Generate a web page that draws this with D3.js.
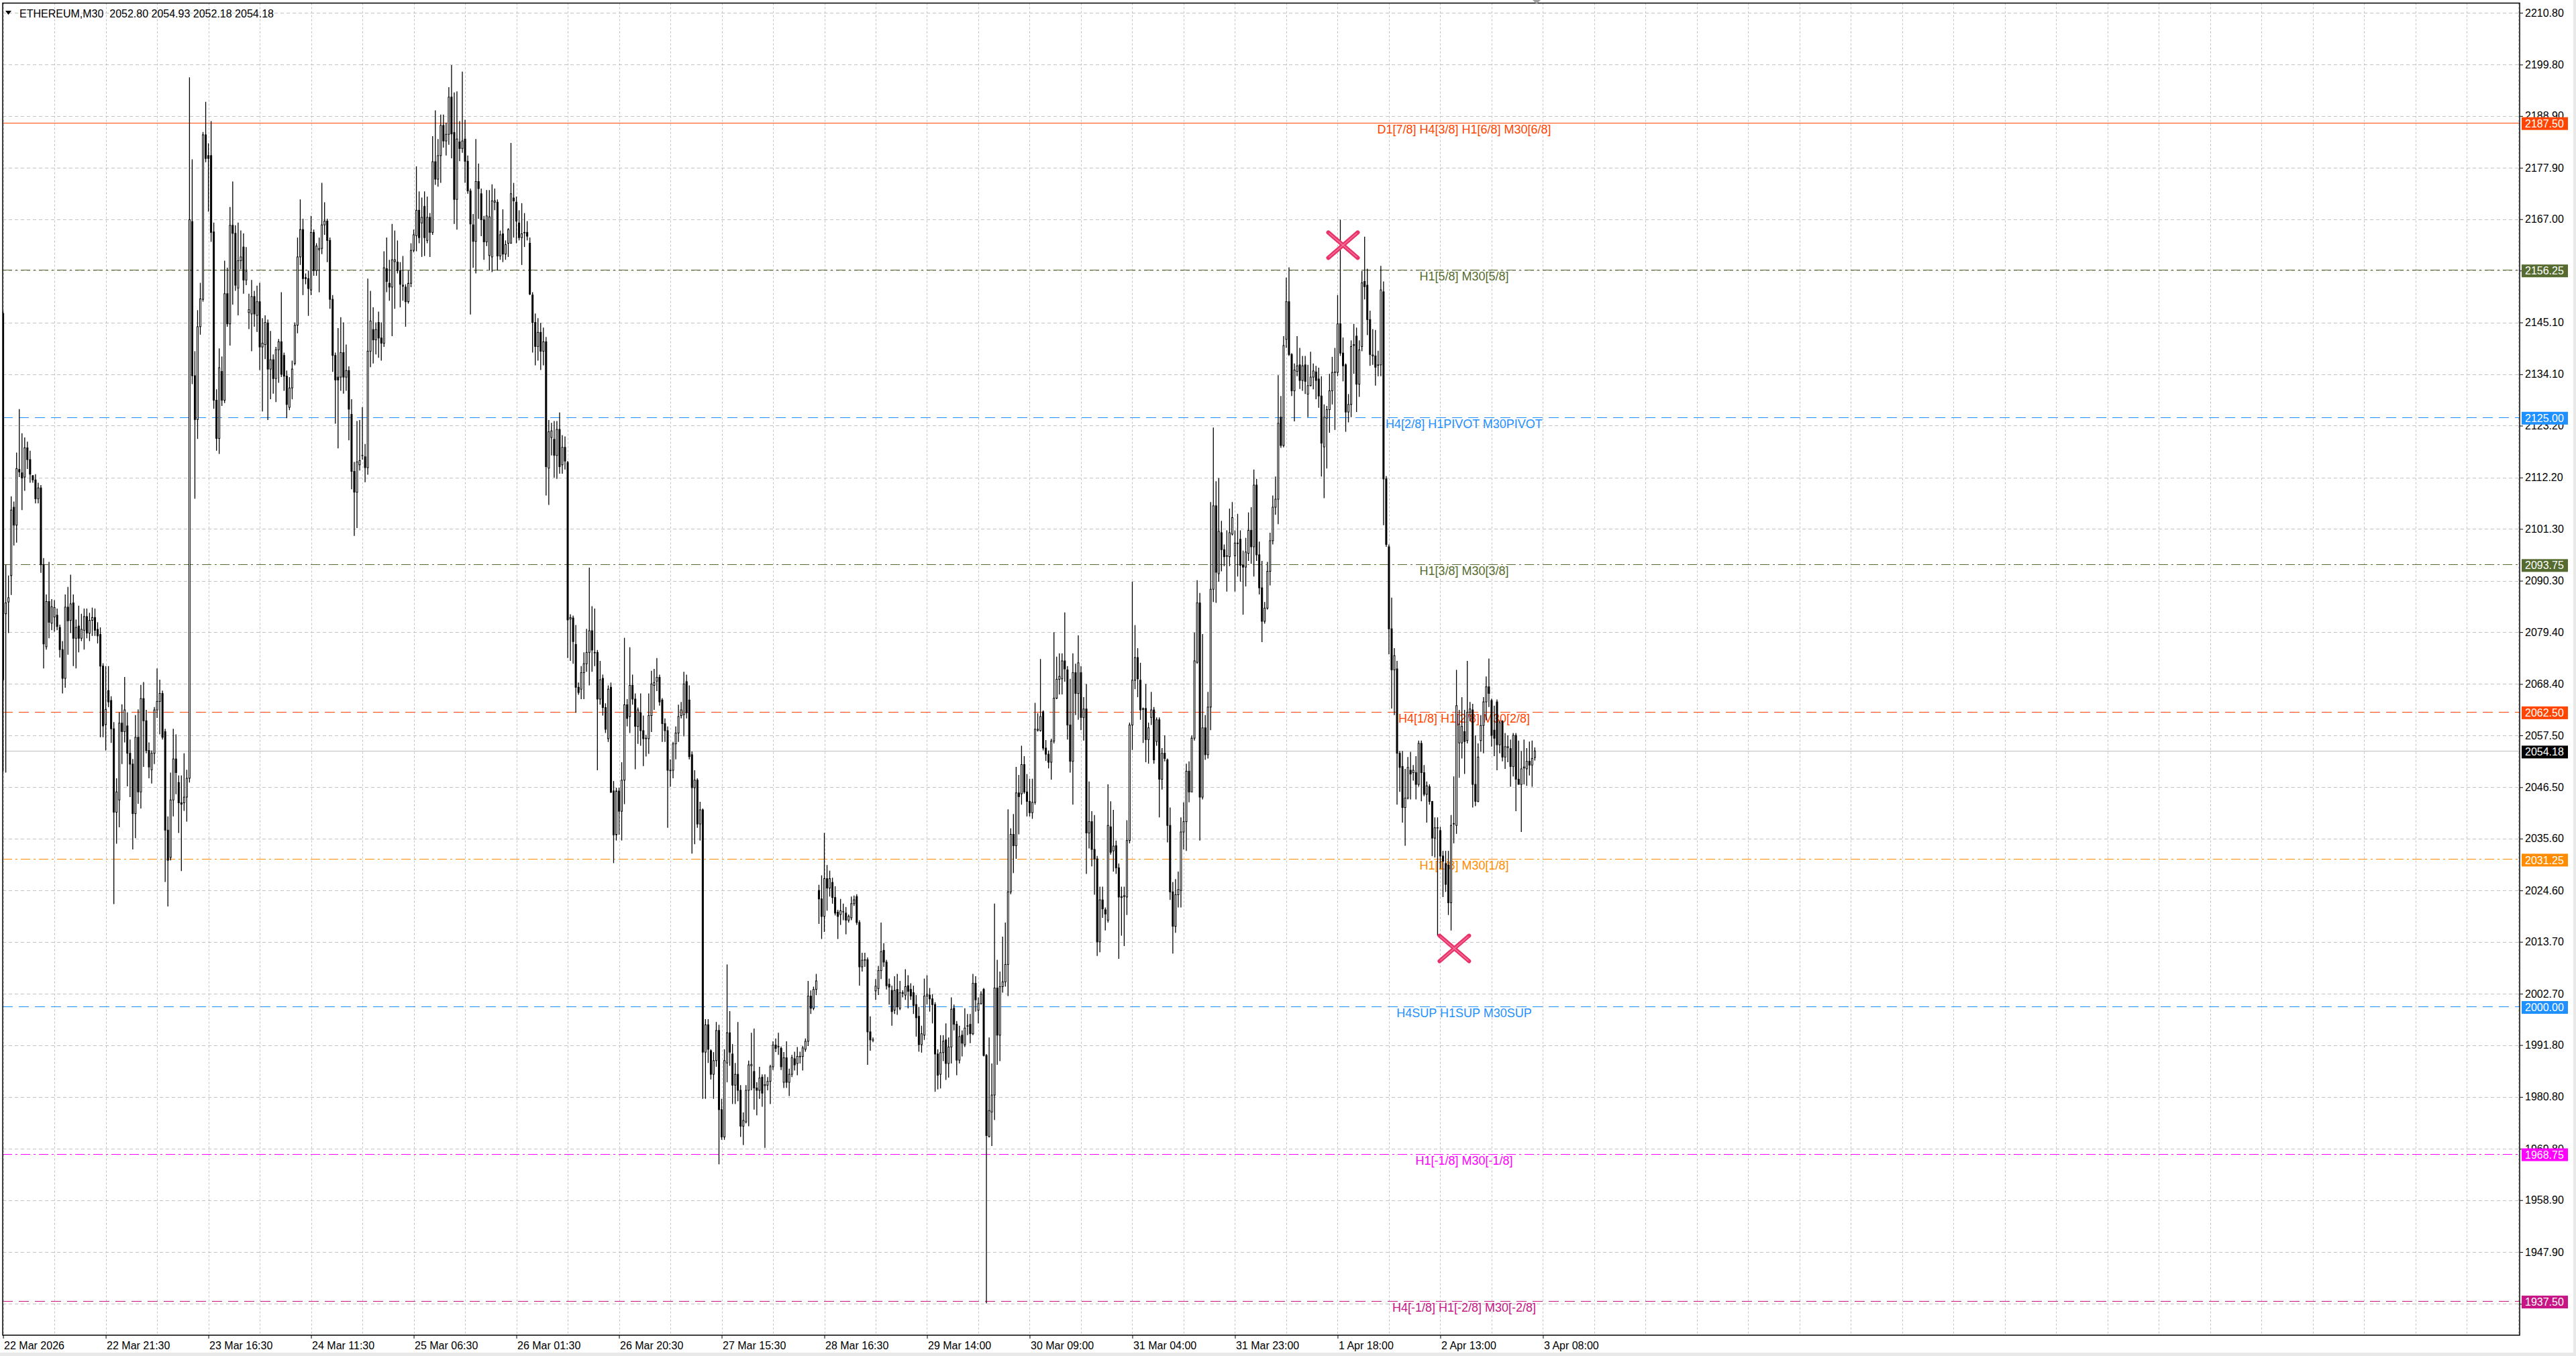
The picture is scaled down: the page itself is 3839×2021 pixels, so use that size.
<!DOCTYPE html>
<html>
<head>
<meta charset="utf-8">
<script src="https://cdn.jsdelivr.net/npm/d3@7"></script>
<style>
html, body { margin: 0; padding: 0; background: #fff; }
svg { display: block; font-family: "Liberation Sans", Arial, sans-serif; }
</style>
</head>
<body>
<svg id="chart" width="3839" height="2021"></svg>
<script>

// ETHEREUM M30 bars: [open, high, low, close]
var candles = [
[2147.0,2147.5,2049.8,2069.3],[2083.3,2093.7,2049.6,2085.6],[2085.8,2091.4,2079.2,2086.7],[2091.4,2108.2,2087.3,2105.3],[2105.9,2107.1,2097.8,2102.1],[2102.1,2117.5,2098.4,2114.1],
[2113.9,2126.7,2112.3,2113.4],[2113.2,2121.6,2105.3,2112.1],[2112.3,2120.7,2109.4,2118.5],[2118.5,2119.8,2114.0,2116.0],[2116.0,2117.9,2111.1,2112.9],[2112.6,2112.7,2111.1,2111.7],
[2111.7,2112.9,2106.7,2107.7],[2107.7,2111.1,2106.7,2110.0],[2110.0,2110.6,2092.0,2093.7],[2093.7,2095.1,2071.7,2076.9],[2076.3,2087.4,2075.7,2085.9],[2085.9,2094.3,2078.1,2081.5],
[2081.3,2086.4,2079.8,2084.8],[2082.6,2086.2,2079.5,2084.6],[2083.0,2084.4,2079.8,2080.6],[2080.4,2081.0,2074.0,2075.7],[2075.7,2077.5,2066.4,2069.6],[2069.6,2087.4,2067.6,2084.7],
[2084.7,2089.0,2074.6,2081.8],[2081.9,2091.6,2079.2,2085.4],[2085.6,2087.4,2072.2,2078.1],[2078.1,2082.1,2071.7,2080.4],[2080.7,2085.0,2075.1,2078.1],[2078.1,2083.3,2077.5,2080.0],
[2079.8,2084.4,2075.7,2082.7],[2082.7,2084.4,2078.1,2079.2],[2079.2,2083.5,2077.5,2081.9],[2081.9,2084.6,2078.6,2082.5],[2082.5,2084.4,2078.6,2079.8],[2080.0,2081.5,2077.0,2078.6],
[2078.9,2080.4,2057.1,2072.2],[2072.2,2072.8,2057.1,2059.5],[2059.8,2072.2,2054.3,2063.0],[2067.0,2072.2,2063.5,2064.6],[2064.9,2065.8,2055.9,2058.9],[2058.9,2060.3,2021.7,2041.2],
[2041.2,2048.4,2034.5,2045.5],[2043.8,2062.4,2038.0,2060.1],[2060.1,2064.1,2051.4,2058.3],[2058.3,2069.9,2056.0,2062.9],[2059.5,2062.4,2046.7,2053.7],[2053.7,2056.6,2044.4,2051.4],
[2051.4,2052.5,2033.3,2040.9],[2040.9,2061.8,2035.7,2057.1],[2057.1,2063.0,2043.0,2045.5],[2045.5,2068.2,2042.0,2065.3],[2065.3,2068.8,2050.8,2060.6],[2060.6,2062.9,2053.7,2054.3],
[2054.3,2056.0,2048.4,2050.8],[2050.2,2054.3,2047.3,2053.7],[2053.7,2063.5,2051.4,2062.9],[2062.9,2071.7,2061.2,2064.7],[2064.7,2069.3,2057.7,2066.4],[2066.4,2067.0,2056.6,2057.1],
[2058.3,2058.9,2026.4,2037.4],[2037.4,2040.3,2021.2,2031.0],[2031.6,2049.6,2031.0,2043.8],[2043.8,2058.9,2040.3,2052.5],[2052.5,2057.7,2045.0,2049.6],[2047.5,2049.0,2036.8,2043.2],
[2043.2,2049.0,2028.7,2042.9],[2043.2,2053.7,2041.5,2044.4],[2044.4,2050.2,2039.2,2048.4],[2048.4,2197.1,2047.5,2166.9],[2166.5,2179.7,2132.0,2133.8],[2133.8,2139.0,2107.7,2124.5],
[2124.5,2147.7,2120.4,2144.2],[2144.2,2153.5,2142.5,2150.1],[2150.0,2185.5,2149.5,2184.9],[2184.9,2191.9,2179.1,2179.9],[2180.5,2183.1,2168.6,2179.9],[2180.5,2187.8,2162.2,2164.2],
[2164.3,2166.3,2126.8,2128.6],[2128.6,2130.9,2117.9,2120.5],[2120.5,2139.6,2117.2,2135.5],[2134.7,2137.9,2127.4,2128.6],[2128.6,2158.2,2128.0,2151.2],[2151.2,2156.7,2144.2,2144.8],
[2144.8,2169.6,2140.2,2165.7],[2165.7,2175.0,2148.9,2164.0],[2164.0,2165.7,2151.8,2153.0],[2152.4,2166.3,2146.6,2158.2],[2158.2,2164.6,2156.4,2159.0],[2161.1,2164.0,2151.2,2154.1],
[2154.1,2161.1,2153.0,2155.9],[2147.2,2151.2,2143.7,2147.8],[2146.9,2154.1,2139.0,2150.6],[2150.6,2151.8,2144.2,2146.9],[2146.6,2152.9,2143.1,2149.5],[2149.5,2153.5,2135.0,2139.9],
[2139.9,2146.0,2126.2,2140.7],[2140.4,2146.6,2137.3,2145.1],[2145.0,2145.7,2124.4,2135.2],[2135.2,2143.3,2128.8,2137.2],[2137.2,2138.3,2130.0,2133.2],[2133.2,2139.9,2128.2,2139.3],
[2139.3,2141.6,2132.3,2141.0],[2141.0,2151.5,2133.5,2134.1],[2138.1,2138.7,2130.6,2133.7],[2133.7,2134.9,2124.8,2127.7],[2127.1,2133.5,2126.5,2131.2],[2131.2,2137.0,2128.8,2135.2],
[2136.4,2145.1,2136.0,2144.5],[2144.5,2163.1,2142.8,2159.0],[2159.0,2171.2,2157.3,2164.8],[2164.8,2167.1,2150.9,2154.4],[2154.6,2155.5,2153.2,2154.4],[2154.4,2156.1,2146.5,2152.3],
[2152.0,2167.7,2150.9,2164.2],[2164.2,2164.8,2155.0,2156.1],[2156.1,2161.9,2155.0,2161.3],[2160.5,2163.1,2151.5,2160.8],[2160.8,2174.7,2159.6,2165.8],[2165.8,2170.6,2163.7,2166.6],
[2166.6,2167.1,2157.9,2162.5],[2162.5,2163.1,2148.0,2150.0],[2150.0,2150.9,2134.6,2138.1],[2138.1,2138.7,2123.6,2132.9],[2133.5,2143.9,2118.4,2132.9],[2133.5,2146.2,2130.6,2138.7],
[2138.7,2145.1,2130.0,2133.5],[2133.5,2140.4,2130.6,2134.9],[2134.9,2135.8,2120.1,2126.7],[2125.6,2128.8,2109.7,2113.5],[2113.5,2115.5,2099.8,2109.1],[2109.1,2124.2,2101.5,2115.5],
[2114.9,2124.4,2113.7,2115.8],[2116.9,2127.1,2116.0,2116.9],[2116.6,2119.3,2111.2,2114.3],[2114.3,2154.4,2112.8,2139.0],[2139.0,2151.8,2135.6,2145.4],[2143.6,2148.3,2136.4,2141.4],
[2141.4,2145.1,2138.3,2143.6],[2145.1,2147.4,2137.6,2141.8],[2141.8,2145.1,2137.0,2140.7],[2140.7,2160.2,2139.9,2156.7],[2156.5,2163.1,2151.5,2153.8],[2153.4,2158.4,2149.7,2152.6],
[2152.6,2166.0,2142.2,2158.4],[2158.0,2164.6,2148.0,2158.4],[2157.9,2162.5,2155.5,2156.1],[2156.1,2157.9,2148.3,2153.2],[2152.8,2159.2,2149.7,2153.0],[2152.6,2153.2,2144.2,2149.5],
[2149.5,2156.1,2149.1,2153.4],[2153.4,2161.9,2152.6,2160.4],[2160.4,2164.8,2160.0,2163.7],[2163.5,2178.2,2160.2,2168.9],[2168.9,2172.9,2161.9,2163.1],[2166.2,2171.6,2159.0,2167.4],
[2169.7,2172.9,2159.2,2163.1],[2162.5,2171.8,2161.9,2167.4],[2167.4,2168.3,2159.0,2164.2],[2164.2,2184.6,2163.7,2179.2],[2179.2,2190.1,2174.3,2175.5],[2175.5,2184.0,2173.9,2180.5],
[2180.5,2189.2,2174.7,2186.9],[2186.9,2189.2,2182.2,2183.6],[2183.6,2187.5,2180.5,2185.0],[2185.0,2195.0,2182.8,2192.9],[2192.9,2199.7,2179.9,2185.1],[2185.4,2193.9,2166.0,2171.2],
[2171.2,2194.1,2164.8,2184.0],[2183.4,2187.8,2179.3,2182.0],[2182.0,2198.3,2181.1,2183.6],[2184.0,2188.1,2174.7,2179.3],[2179.3,2180.5,2172.4,2173.0],[2173.0,2173.5,2146.8,2166.0],
[2165.8,2168.1,2156.7,2162.3],[2162.3,2184.0,2155.5,2175.0],[2175.0,2178.8,2167.1,2173.5],[2172.4,2173.5,2163.4,2166.9],[2166.9,2167.7,2158.4,2162.2],[2162.2,2173.2,2161.3,2167.7],
[2159.3,2173.2,2156.1,2167.5],[2159.0,2174.4,2155.8,2170.9],[2170.6,2173.5,2168.9,2170.9],[2170.6,2171.2,2156.1,2159.2],[2159.2,2164.6,2158.4,2163.7],[2163.9,2169.1,2157.9,2159.6],
[2159.6,2162.5,2158.4,2161.6],[2161.9,2165.1,2159.0,2164.8],[2161.9,2183.2,2161.9,2172.4],[2171.5,2174.7,2163.1,2170.9],[2170.6,2171.8,2161.9,2166.6],[2166.2,2168.9,2162.5,2163.1],
[2163.1,2170.4,2157.3,2163.9],[2164.1,2168.3,2161.1,2164.2],[2164.2,2166.6,2162.5,2163.4],[2161.9,2163.1,2150.9,2151.1],[2150.9,2151.5,2138.7,2145.1],[2145.1,2147.0,2136.0,2140.0],
[2140.0,2146.0,2137.0,2143.0],[2143.0,2145.0,2135.0,2139.0],[2139.0,2144.0,2136.0,2141.0],[2141.0,2142.0,2108.4,2114.5],[2114.2,2124.4,2106.4,2121.9],[2120.7,2123.8,2116.9,2122.1],
[2120.3,2124.2,2112.2,2116.9],[2116.9,2124.2,2111.9,2122.4],[2122.4,2126.0,2113.0,2114.5],[2114.9,2121.2,2113.0,2118.6],[2118.6,2120.9,2113.9,2115.7],[2115.4,2115.7,2073.9,2082.0],
[2082.2,2083.2,2073.3,2082.5],[2082.4,2082.9,2072.7,2077.4],[2076.8,2080.9,2062.3,2067.7],[2067.7,2068.7,2066.1,2066.6],[2067.3,2072.2,2065.2,2070.8],[2070.8,2075.1,2065.2,2072.7],
[2072.7,2080.1,2071.0,2075.1],[2075.1,2093.1,2068.1,2079.7],[2079.7,2084.9,2071.0,2075.6],[2075.0,2084.4,2072.2,2075.1],[2075.1,2075.6,2050.1,2065.2],[2065.2,2073.3,2064.0,2069.3],
[2069.6,2070.4,2061.7,2063.4],[2063.4,2064.3,2058.0,2058.8],[2056.8,2068.1,2056.1,2067.3],[2067.7,2068.7,2045.4,2045.4],[2045.7,2047.8,2030.4,2036.4],[2036.4,2046.4,2035.2,2045.7],
[2045.7,2046.4,2036.4,2041.4],[2041.4,2051.8,2035.2,2048.0],[2048.0,2078.2,2042.9,2064.0],[2064.0,2065.2,2059.4,2061.1],[2061.5,2076.2,2058.0,2068.1],[2068.1,2070.4,2064.0,2065.2],
[2065.2,2066.4,2050.3,2059.4],[2059.4,2063.4,2055.7,2062.9],[2062.3,2066.4,2055.3,2058.5],[2058.5,2061.7,2051.0,2056.8],[2056.8,2057.6,2053.0,2056.9],[2056.8,2066.4,2053.6,2061.7],
[2061.7,2071.2,2058.2,2068.4],[2068.1,2071.6,2062.9,2068.7],[2069.0,2073.9,2066.9,2069.8],[2069.8,2070.4,2063.8,2064.6],[2065.0,2065.4,2056.1,2060.0],[2060.0,2061.1,2056.1,2058.5],
[2058.5,2059.4,2037.9,2050.1],[2050.0,2052.4,2046.6,2050.1],[2050.1,2056.1,2048.4,2055.7],[2055.7,2059.4,2052.4,2058.0],[2058.0,2064.0,2056.1,2061.5],[2061.7,2064.6,2061.1,2062.9],
[2061.9,2071.0,2057.3,2068.4],[2068.9,2070.4,2061.1,2062.3],[2065.0,2068.1,2052.4,2053.0],[2053.4,2054.1,2032.4,2046.4],[2046.4,2050.1,2034.4,2048.0],[2048.0,2048.4,2037.9,2038.7],
[2038.7,2043.4,2035.2,2041.7],[2041.7,2042.0,1980.4,1990.3],[1990.3,1997.3,1980.4,1996.1],[1996.1,1997.3,1988.0,1990.9],[1990.6,1990.9,1984.5,1985.6],[1985.6,1990.3,1980.4,1988.5],
[1988.5,1996.7,1987.2,1994.9],[1994.9,1996.1,1966.5,1978.1],[1978.1,1980.4,1971.7,1972.3],[1972.3,1990.9,1971.7,1988.5],[1988.0,2008.9,1983.9,1994.4],[1994.4,1999.0,1987.4,1990.3],
[1989.9,1992.0,1979.3,1983.3],[1983.3,1988.0,1979.3,1985.6],[1985.6,1996.7,1979.9,1982.2],[1982.2,1983.3,1972.3,1974.6],[1974.6,1977.5,1970.6,1975.8],[1975.5,1983.3,1975.2,1982.2],
[1982.2,1988.5,1974.6,1987.6],[1987.4,1994.4,1982.2,1987.7],[1986.2,1995.3,1978.1,1982.7],[1982.7,1983.9,1976.9,1982.2],[1982.2,1987.2,1980.4,1984.8],[1985.0,1985.6,1978.7,1981.6],
[1983.2,1985.6,1970.0,1983.4],[1983.3,1985.0,1982.2,1984.1],[1984.1,1987.6,1979.3,1987.2],[1987.2,1992.6,1986.5,1991.8],[1991.8,1993.2,1990.3,1991.1],[1991.4,1994.4,1989.7,1991.5],
[1991.1,1991.5,1986.5,1987.2],[1983.9,1990.3,1982.7,1989.1],[1989.1,1992.6,1982.7,1983.9],[1983.9,1986.8,1981.0,1985.6],[1985.6,1989.7,1985.0,1989.1],[1988.9,1990.4,1986.4,1987.6],
[1987.9,1991.4,1985.4,1989.4],[1989.3,1990.4,1987.9,1989.4],[1989.4,1991.6,1986.4,1991.2],[1990.9,1993.2,1990.4,1992.6],[1992.6,2005.4,1991.6,2002.2],[2002.2,2003.4,1998.4,1999.6],
[1999.6,2004.2,1999.2,2003.6],[2003.6,2006.9,2002.4,2005.4],[2024.6,2025.8,2017.5,2022.8],[2022.8,2027.8,2014.3,2019.1],[2019.1,2036.8,2015.8,2027.1],[2027.1,2030.0,2020.3,2025.1],
[2025.1,2028.8,2023.3,2027.1],[2026.3,2027.3,2021.8,2023.1],[2023.1,2025.5,2019.3,2019.8],[2020.0,2020.5,2014.3,2019.1],[2019.5,2022.8,2017.3,2020.3],[2020.1,2021.8,2018.3,2020.1],
[2019.8,2021.1,2015.3,2018.3],[2018.3,2019.5,2017.8,2019.1],[2018.8,2023.3,2018.3,2021.8],[2021.8,2023.5,2021.3,2022.6],[2023.3,2023.8,2017.3,2017.8],[2017.8,2018.3,2004.4,2008.4],
[2008.4,2011.4,2007.4,2009.8],[2009.8,2011.4,2008.4,2009.9],[2009.9,2010.4,1987.6,1994.6],[1994.6,1997.9,1990.6,1992.9],[1992.9,1993.4,1992.4,1992.9],[2003.3,2005.8,2001.4,2004.3],
[2003.8,2008.6,2002.4,2007.6],[2007.6,2017.8,2005.8,2011.6],[2011.9,2013.4,2008.4,2009.4],[2009.4,2009.9,2003.6,2004.4],[2004.7,2005.9,2000.4,2004.1],[2003.4,2004.4,1995.9,1998.9],
[1999.2,2006.4,1998.4,2003.4],[2003.6,2006.9,1998.2,1999.9],[1999.6,2005.4,1999.2,2002.9],[2002.9,2003.4,2001.9,2002.8],[2002.4,2007.9,2001.4,2004.2],[2004.4,2006.6,1999.6,2003.2],
[2003.6,2004.9,2001.4,2002.2],[2002.9,2004.4,1998.4,2000.2],[2000.4,2002.4,1993.6,1997.6],[1997.9,1999.9,1990.4,1991.9],[1991.9,1995.9,1990.2,1994.2],[1993.9,2005.9,1992.9,2002.2],
[2002.2,2006.6,2000.4,2002.6],[2002.4,2003.9,1998.9,2001.6],[2001.6,2002.6,1996.4,2000.4],[2000.4,2000.9,1981.9,1989.9],[1989.9,1990.9,1982.4,1985.4],[1985.6,1993.9,1982.6,1990.2],
[1990.2,1993.9,1988.4,1992.6],[1992.9,1996.4,1984.4,1987.9],[1987.9,1993.4,1984.9,1991.4],[1991.4,2001.9,1987.9,1999.4],[1999.6,2000.4,1994.9,1996.2],[1996.2,1996.9,1985.4,1988.6],
[1988.6,1995.9,1987.9,1993.6],[1993.9,1994.9,1989.4,1992.2],[1991.9,1999.6,1991.4,1995.4],[1995.8,1998.4,1993.9,1995.9],[1996.2,1998.4,1992.2,1994.2],[1994.2,2006.9,1993.9,2004.9],
[2004.9,2006.4,1998.9,2001.4],[1999.2,2001.9,1996.4,2000.6],[2000.6,2003.2,2000.4,2002.6],[2003.6,2003.9,1989.4,1989.6],[1989.6,1989.9,1937.0,1972.6],[1972.4,1993.4,1972.2,1977.9],
[1977.6,1987.9,1970.4,1981.2],[1981.2,2021.8,1975.9,2003.9],[2003.9,2009.9,1987.6,1993.9],[1993.9,2007.4,1988.4,2004.2],[2004.2,2014.8,2002.9,2005.2],[2005.2,2017.8,2004.2,2008.9],
[2008.9,2041.8,2002.2,2024.3],[2024.3,2037.8,2023.8,2036.5],[2036.5,2040.8,2028.3,2034.1],[2034.1,2050.8,2031.3,2045.3],[2045.3,2049.1,2036.5,2044.5],[2045.1,2055.3,2042.8,2051.3],
[2051.3,2053.1,2045.1,2045.5],[2045.5,2049.3,2040.3,2043.5],[2043.5,2048.3,2040.3,2041.1],[2041.1,2048.3,2039.8,2043.3],[2043.3,2064.4,2042.8,2058.8],[2058.6,2062.2,2058.3,2058.8],
[2058.5,2073.7,2058.3,2061.5],[2062.5,2062.8,2054.3,2054.8],[2054.8,2056.5,2052.1,2053.5],[2053.5,2054.3,2050.5,2051.8],[2051.8,2056.8,2048.1,2056.3],[2056.3,2079.4,2055.8,2065.4],
[2065.4,2074.2,2065.2,2069.4],[2069.4,2074.9,2066.2,2070.0],[2069.5,2074.9,2066.2,2073.3],[2073.3,2083.6,2068.9,2071.6],[2071.4,2072.2,2056.6,2059.7],[2059.7,2069.5,2049.6,2052.0],
[2052.0,2074.9,2042.8,2070.8],[2070.8,2072.7,2061.8,2066.4],[2066.4,2078.7,2060.8,2072.9],[2070.8,2072.2,2058.6,2061.3],[2061.3,2065.6,2056.4,2063.1],[2063.1,2068.4,2028.1,2036.8],
[2036.8,2047.7,2033.5,2039.2],[2039.2,2041.4,2029.7,2033.3],[2033.3,2040.6,2023.7,2031.3],[2031.3,2031.9,2010.7,2013.7],[2013.7,2025.4,2011.5,2022.6],[2022.6,2025.4,2018.8,2020.7],
[2020.5,2021.0,2016.1,2019.6],[2018.3,2047.1,2017.8,2038.4],[2038.1,2043.5,2032.2,2032.7],[2033.0,2041.7,2028.6,2034.0],[2034.1,2035.2,2028.1,2029.4],[2029.4,2030.3,2010.1,2023.2],
[2023.1,2025.4,2015.0,2023.3],[2023.3,2025.4,2012.8,2023.5],[2023.2,2039.5,2019.4,2035.2],[2035.2,2060.2,2034.6,2059.7],[2059.7,2090.1,2054.4,2069.2],[2069.2,2080.9,2067.3,2074.0],
[2074.0,2076.0,2065.6,2069.5],[2069.2,2072.9,2060.8,2062.9],[2063.0,2063.4,2055.9,2063.2],[2063.2,2068.4,2051.8,2056.6],[2056.6,2060.2,2051.5,2059.1],[2061.3,2066.7,2059.7,2062.9],
[2062.9,2063.5,2051.5,2052.3],[2056.2,2061.3,2055.3,2060.8],[2060.8,2061.3,2040.1,2048.2],[2048.2,2054.8,2046.0,2053.7],[2053.7,2057.5,2052.0,2052.6],[2052.3,2052.6,2034.8,2038.4],
[2038.4,2042.2,2022.6,2024.3],[2024.3,2026.4,2011.2,2017.0],[2017.0,2027.0,2015.6,2023.7],[2023.7,2028.6,2021.0,2024.8],[2024.6,2040.1,2021.0,2037.0],[2037.0,2043.3,2033.3,2039.2],
[2039.2,2051.5,2033.0,2049.9],[2049.9,2052.0,2043.3,2045.5],[2045.5,2057.5,2045.5,2056.9],[2056.9,2079.3,2056.4,2073.3],[2073.0,2090.4,2072.7,2085.6],[2085.6,2087.7,2035.2,2044.4],
[2044.4,2079.0,2043.9,2059.1],[2059.1,2061.8,2052.3,2053.4],[2053.4,2066.7,2052.6,2063.5],[2063.5,2107.0,2058.6,2088.5],[2088.5,2122.8,2085.8,2106.2],[2106.2,2111.4,2085.6,2092.1],
[2091.8,2112.1,2090.1,2100.8],[2100.5,2103.0,2092.3,2096.9],[2096.9,2098.0,2093.4,2095.4],[2095.5,2101.0,2088.0,2095.6],[2095.4,2105.6,2093.4,2100.5],[2100.2,2107.0,2099.9,2103.7],
[2095.6,2101.0,2088.0,2098.3],[2098.2,2104.5,2091.2,2098.3],[2099.1,2101.0,2090.1,2093.6],[2093.6,2096.7,2083.1,2093.2],[2093.2,2099.4,2089.1,2096.4],[2096.1,2104.8,2094.5,2101.0],
[2101.0,2105.9,2093.9,2097.5],[2097.5,2113.9,2091.2,2110.6],[2110.6,2111.9,2094.5,2095.8],[2095.8,2098.6,2087.4,2088.8],[2088.8,2094.5,2077.3,2081.7],[2081.7,2085.8,2081.2,2084.5],
[2084.5,2094.3,2084.2,2092.3],[2092.3,2100.5,2089.3,2098.8],[2098.8,2108.4,2098.0,2105.9],[2105.9,2112.4,2104.3,2107.6],[2107.6,2133.9,2102.3,2123.7],[2125.0,2129.5,2118.5,2119.0],
[2119.0,2142.2,2118.6,2140.2],[2141.5,2154.6,2139.7,2149.5],[2149.5,2156.8,2138.0,2138.3],[2138.3,2138.6,2129.5,2130.6],[2130.6,2136.4,2124.1,2135.0],[2134.7,2142.2,2133.7,2135.9],
[2136.1,2139.7,2131.0,2132.8],[2132.8,2138.0,2130.6,2135.9],[2136.1,2138.0,2129.9,2132.6],[2129.9,2136.1,2125.0,2131.7],[2131.7,2138.9,2131.5,2133.5],[2133.5,2136.4,2130.9,2134.8],
[2134.6,2135.9,2128.8,2132.8],[2133.1,2135.5,2127.0,2129.5],[2129.5,2133.7,2112.4,2119.5],[2118.7,2127.7,2107.8,2125.0],[2124.8,2127.4,2114.1,2126.6],[2126.6,2134.2,2121.7,2130.6],
[2130.6,2137.8,2127.7,2134.5],[2134.5,2139.7,2122.3,2134.6],[2134.5,2150.9,2133.7,2144.8],[2144.8,2166.9,2138.0,2138.6],[2138.6,2141.9,2132.6,2135.9],[2136.1,2136.4,2121.9,2126.1],
[2126.1,2129.9,2123.9,2127.7],[2127.7,2141.3,2125.0,2140.0],[2140.2,2144.8,2134.2,2140.4],[2142.2,2144.0,2126.1,2132.0],[2132.0,2141.3,2129.3,2139.3],[2140.0,2156.0,2139.0,2153.5],
[2153.8,2163.3,2150.0,2152.7],[2153.0,2156.5,2142.4,2145.7],[2145.7,2147.6,2135.9,2138.3],[2138.0,2143.7,2136.1,2138.2],[2138.0,2143.5,2131.7,2135.6],[2136.0,2139.1,2133.7,2136.1],
[2136.1,2157.1,2133.7,2152.0],[2151.6,2153.8,2102.1,2111.9],[2111.9,2112.5,2097.5,2098.0],[2097.5,2098.0,2074.7,2080.1],[2080.1,2086.7,2063.2,2071.4],[2071.4,2076.0,2061.8,2074.4],
[2071.6,2073.3,2042.8,2053.7],[2053.7,2054.2,2045.5,2050.7],[2050.9,2054.2,2039.0,2042.2],[2042.2,2050.4,2034.1,2044.2],[2044.2,2052.9,2043.9,2050.7],[2050.1,2054.0,2043.9,2049.3],
[2049.6,2051.2,2047.9,2050.1],[2049.6,2053.1,2043.9,2047.1],[2047.1,2056.4,2046.6,2055.8],[2055.8,2056.4,2043.5,2049.6],[2049.6,2051.2,2044.6,2045.0],[2045.0,2047.7,2039.0,2046.8],
[2046.6,2047.1,2042.8,2043.5],[2043.5,2043.5,2031.9,2035.7],[2035.7,2040.1,2031.6,2037.9],[2037.9,2040.1,2015.0,2037.9],[2037.3,2038.1,2029.2,2031.9],[2031.9,2033.0,2023.2,2030.8],
[2030.3,2033.0,2024.3,2025.9],[2030.0,2033.0,2019.4,2022.0],[2022.0,2040.6,2016.1,2038.4],[2038.7,2048.8,2034.6,2038.8],[2038.4,2071.4,2036.6,2063.8],[2055.9,2062.9,2048.5,2059.9],
[2055.9,2065.6,2052.6,2059.4],[2058.3,2062.9,2049.3,2056.2],[2056.4,2073.3,2055.8,2062.4],[2062.4,2064.6,2060.5,2063.1],[2062.9,2064.2,2042.2,2047.1],[2047.1,2057.5,2042.5,2043.5],
[2043.5,2055.8,2043.3,2052.9],[2056.4,2061.8,2054.0,2059.6],[2059.6,2065.6,2053.7,2064.6],[2064.6,2070.0,2060.7,2067.8],[2067.8,2073.8,2063.5,2066.4],[2064.9,2065.3,2055.1,2057.5],
[2058.6,2063.8,2053.1,2056.9],[2064.6,2065.1,2050.1,2055.5],[2055.5,2060.7,2053.7,2060.2],[2060.5,2060.7,2052.0,2052.9],[2052.9,2058.0,2050.4,2055.1],[2054.9,2057.5,2051.8,2055.1],
[2054.7,2056.6,2046.6,2050.9],[2050.9,2058.0,2048.8,2057.5],[2057.5,2058.0,2041.4,2048.2],[2048.2,2056.4,2047.1,2047.1],[2047.1,2054.2,2037.0,2050.4],[2050.6,2056.6,2047.1,2050.8],
[2050.4,2054.8,2046.8,2052.0],[2052.0,2056.2,2049.0,2051.2],[2051.2,2056.4,2046.6,2052.6],[2052.80,2054.93,2052.18,2054.18]
];

// time axis: one label every 38 bars
var timeLabels = ["22 Mar 2026", "22 Mar 21:30", "23 Mar 16:30", "24 Mar 11:30", "25 Mar 06:30", "26 Mar 01:30",
    "26 Mar 20:30", "27 Mar 15:30", "28 Mar 16:30", "29 Mar 14:00", "30 Mar 09:00", "31 Mar 04:00",
    "31 Mar 23:00", "1 Apr 18:00", "2 Apr 13:00", "3 Apr 08:00"];
var barsPerLabel = 38;

var priceTicks = [2210.80, 2199.80, 2188.90, 2177.90, 2167.00, 2156.10, 2145.10, 2134.10, 2123.20, 2112.20,
    2101.30, 2090.30, 2079.40, 2068.40, 2057.50, 2046.50, 2035.60, 2024.60, 2013.70, 2002.70,
    1991.80, 1980.80, 1969.80, 1958.90, 1947.90, 1936.90];

// murrey levels drawn by the indicator
var levelPrices = [2187.50, 2156.25, 2125.00, 2093.75, 2062.50, 2031.25, 2000.00, 1968.75, 1937.50];
var levelTexts = ["D1[7/8] H4[3/8] H1[6/8] M30[6/8]", "H1[5/8] M30[5/8]", "H4[2/8] H1PIVOT M30PIVOT",
    "H1[3/8] M30[3/8]", "H4[1/8] H1[2/8] M30[2/8]", "H1[1/8] M30[1/8]", "H4SUP H1SUP M30SUP",
    "H1[-1/8] M30[-1/8]", "H4[-1/8] H1[-2/8] M30[-2/8]"];

var bidPrice = 2054.18;
var titleText = "ETHEREUM,M30  2052.80 2054.93 2052.18 2054.18";

// the two cross marks (bar position, price)
var markBars = [496.0, 537.2];
var markPrices = [2161.5, 2012.3];

// ---- styles for the levels (same order as levelPrices)
var DASH = "15,9", DASHDOT = "14,5,3,5";
var levelStyle = [
    {c: "#FF4500", d: null}, {c: "#556B2F", d: DASHDOT}, {c: "#1E90FF", d: DASH},
    {c: "#556B2F", d: DASHDOT}, {c: "#FF4500", d: DASH}, {c: "#FF8C00", d: DASHDOT},
    {c: "#1E90FF", d: DASH}, {c: "#FF00FF", d: DASHDOT}, {c: "#C71585", d: DASH}
];

var plot = {left: 4, top: 4.6, right: 3755, bottom: 1990};

var x = d3.scaleLinear().domain([0, 570]).range([4.6, 4.6 + 570 * 4.026]);
var y = d3.scaleLinear().domain([1947.9, 2210.8]).range([1866, 19]);

var svg = d3.select("#chart");
svg.append("rect").attr("width", 3839).attr("height", 2021).attr("fill", "#fff");
// light border at the window edges
svg.append("rect").attr("x", 0).attr("y", 2016).attr("width", 3839).attr("height", 5).attr("fill", "#e9e9e9");
svg.append("rect").attr("x", 3835).attr("y", 0).attr("width", 4).attr("height", 2021).attr("fill", "#e9e9e9");

svg.append("defs").append("clipPath").attr("id", "plotclip").append("rect")
    .attr("x", plot.left).attr("y", plot.top)
    .attr("width", plot.right - plot.left).attr("height", plot.bottom - plot.top);

var g = svg.append("g").attr("clip-path", "url(#plotclip)");

// grid
g.selectAll("line.hgrid").data(priceTicks).enter().append("line")
    .attr("x1", plot.left).attr("x2", plot.right)
    .attr("y1", function (d) { return Math.round(y(d)) + 0.5; })
    .attr("y2", function (d) { return Math.round(y(d)) + 0.5; })
    .attr("stroke", "#c3c3c3").attr("stroke-width", 1).attr("stroke-dasharray", "5,4");

var vgrid = d3.range(0, 940, 19);
g.selectAll("line.vgrid").data(vgrid).enter().append("line")
    .attr("x1", function (d) { return Math.round(x(d)) + 0.5; })
    .attr("x2", function (d) { return Math.round(x(d)) + 0.5; })
    .attr("y1", plot.top).attr("y2", plot.bottom)
    .attr("stroke", "#c3c3c3").attr("stroke-width", 1).attr("stroke-dasharray", "3,3");

// level lines + their names
g.selectAll("line.level").data(levelPrices).enter().append("line")
    .attr("x1", plot.left).attr("x2", plot.right)
    .attr("y1", function (d) { return Math.round(y(d)) + 0.5; })
    .attr("y2", function (d) { return Math.round(y(d)) + 0.5; })
    .attr("stroke", function (d, i) { return levelStyle[i].c; })
    .attr("stroke-width", 1.2)
    .attr("stroke-dasharray", function (d, i) { return levelStyle[i].d; });

g.selectAll("text.level").data(levelPrices).enter().append("text")
    .attr("x", 2182).attr("y", function (d) { return y(d) + 16; })
    .attr("text-anchor", "middle").attr("font-size", 18)
    .attr("fill", function (d, i) { return levelStyle[i].c; })
    .text(function (d, i) { return levelTexts[i]; });

// bid line
g.append("line").attr("x1", plot.left).attr("x2", plot.right)
    .attr("y1", Math.round(y(bidPrice)) + 0.5).attr("y2", Math.round(y(bidPrice)) + 0.5)
    .attr("stroke", "#c0c0c0").attr("stroke-width", 1);

// candles
var bar = g.selectAll("g.bar").data(candles).enter().append("g");
bar.append("line")
    .attr("x1", function (d, i) { return x(i); }).attr("x2", function (d, i) { return x(i); })
    .attr("y1", function (d) { return y(d[1]); }).attr("y2", function (d) { return y(d[2]); })
    .attr("stroke", "#000").attr("stroke-width", 1.3);
bar.append("rect")
    .attr("x", function (d, i) { return x(i) - 1; })
    .attr("width", 2)
    .attr("y", function (d) { return y(Math.max(d[0], d[3])); })
    .attr("height", function (d) { return Math.max(0.3, Math.abs(y(d[0]) - y(d[3]))); })
    .attr("fill", function (d) { return d[3] >= d[0] ? "#fff" : "#000"; })
    .attr("stroke", "#000").attr("stroke-width", 1);

// cross marks
var marks = g.selectAll("g.mark").data(markBars).enter().append("g")
    .attr("transform", function (d, i) { return "translate(" + x(d) + "," + y(markPrices[i]) + ")"; });
marks.append("path").attr("d", "M-22,-19L22,19M-22,19L22,-19")
    .attr("stroke", "#E8336A").attr("stroke-width", 6).attr("stroke-linecap", "round").attr("fill", "none");
marks.append("path").attr("d", "M-21,-18L21,18M-21,18L21,-18")
    .attr("stroke", "#F56E96").attr("stroke-width", 1.5).attr("fill", "none");

// frame
svg.append("rect").attr("x", plot.left).attr("y", plot.top)
    .attr("width", plot.right - plot.left).attr("height", plot.bottom - plot.top)
    .attr("fill", "none").attr("stroke", "#000").attr("stroke-width", 1.5);

// chart shift marker
svg.append("path").attr("d", "M2284,0L2296,0L2290,6Z").attr("fill", "#a0a0a0");

// price axis
var yAxis = d3.axisRight(y).tickValues(priceTicks).tickFormat(d3.format(".2f"))
    .tickSize(5).tickPadding(3);
var ya = svg.append("g").attr("transform", "translate(" + plot.right + ",0)").call(yAxis);
ya.select(".domain").remove();
ya.selectAll("text").attr("font-size", 16).attr("fill", "#000").attr("font-family", null);
ya.selectAll("line").attr("stroke", "#000");

// time axis
var xAxis = d3.axisBottom(x).tickValues(d3.range(0, timeLabels.length * barsPerLabel, barsPerLabel))
    .tickFormat(function (d) { return timeLabels[d / barsPerLabel]; })
    .tickSize(5).tickPadding(5);
var xa = svg.append("g").attr("transform", "translate(0," + plot.bottom + ")").call(xAxis);
xa.select(".domain").remove();
xa.selectAll("text").attr("font-size", 16).attr("fill", "#000").attr("font-family", null)
    .attr("text-anchor", "start").attr("dx", 1);
xa.selectAll("line").attr("stroke", "#000");

// level price boxes on the right
var boxes = svg.selectAll("g.box").data(levelPrices.concat([bidPrice])).enter().append("g")
    .attr("transform", function (d) { return "translate(3758," + y(d) + ")"; });
boxes.append("rect").attr("x", 0).attr("y", -8).attr("width", 69).attr("height", 19)
    .attr("fill", function (d, i) { return i < levelStyle.length ? levelStyle[i].c : "#000"; });
boxes.append("text").attr("x", 5).attr("y", 1.5).attr("dy", "0.35em")
    .attr("font-size", 16).attr("fill", "#fff")
    .text(function (d) { return d3.format(".2f")(d); });

// title
svg.append("path").attr("d", "M8,16L17,16L12.5,22Z").attr("fill", "#000");
svg.append("text").attr("x", 29).attr("y", 26).attr("font-size", 16).attr("fill", "#000")
    .style("white-space", "pre").text(titleText);

</script>
</body>
</html>
